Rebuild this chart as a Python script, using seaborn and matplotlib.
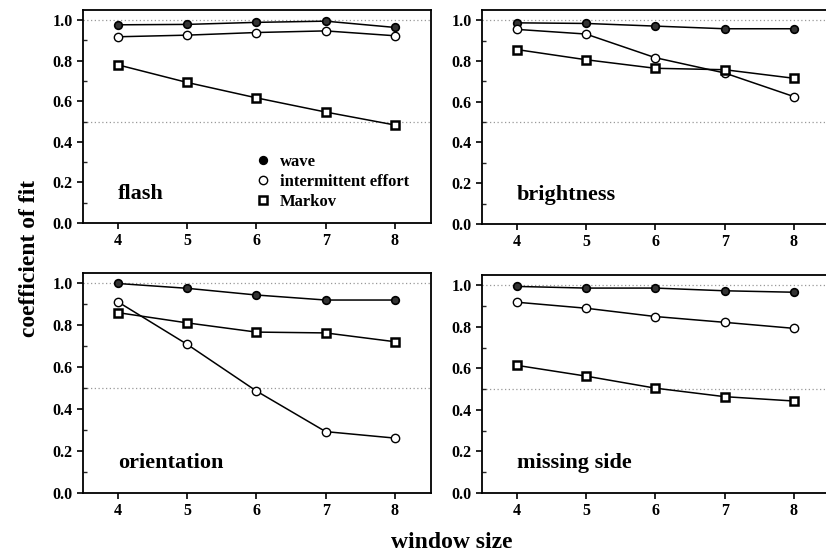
import numpy as np
import pandas as pd
import matplotlib
matplotlib.use("Agg")
import matplotlib.pyplot as plt
import seaborn as sns
from matplotlib.lines import Line2D
from matplotlib.ticker import MultipleLocator

sns.set_theme(style="ticks")
plt.rcParams['font.family'] = ['Liberation Serif', 'DejaVu Serif']
plt.rcParams['font.weight'] = 'bold'
plt.rcParams['text.color'] = 'black'
plt.rcParams['legend.labelcolor'] = 'black'

window = [4, 5, 6, 7, 8]
panels = ["flash", "brightness", "orientation", "missing side"]
series = ["wave", "intermittent effort", "Markov"]

flash_wave = [0.977, 0.979, 0.989, 0.995, 0.964]
flash_inter = [0.918, 0.926, 0.939, 0.947, 0.923]
flash_markov = [0.780, 0.693, 0.617, 0.547, 0.483]

bright_wave = [0.987, 0.984, 0.971, 0.958, 0.958]
bright_inter = [0.955, 0.932, 0.816, 0.741, 0.625]
bright_markov = [0.856, 0.806, 0.764, 0.757, 0.715]

orient_wave = [1.000, 0.977, 0.945, 0.921, 0.921]
orient_inter = [0.913, 0.710, 0.487, 0.293, 0.262]
orient_markov = [0.861, 0.812, 0.768, 0.764, 0.722]

missing_wave = [0.995, 0.987, 0.987, 0.974, 0.967]
missing_inter = [0.919, 0.890, 0.850, 0.822, 0.793]
missing_markov = [0.615, 0.563, 0.505, 0.464, 0.443]

data = {
    "flash": [flash_wave, flash_inter, flash_markov],
    "brightness": [bright_wave, bright_inter, bright_markov],
    "orientation": [orient_wave, orient_inter, orient_markov],
    "missing side": [missing_wave, missing_inter, missing_markov],
}

rows = []
for p in panels:
    for s, vals in zip(series, data[p]):
        for w, v in zip(window, vals):
            rows.append({"panel": p, "series": s, "window": w, "fit": v})
df = pd.DataFrame(rows)

W, H = 826, 558
fig = plt.figure(figsize=(W / 100, H / 100), dpi=100)

def rect(l, r, t, b):
    return [l / W, 1 - b / H, (r - l) / W, (b - t) / H]

rects = {
    "flash": rect(83, 431, 10, 223),
    "brightness": rect(482, 830, 10, 224),
    "orientation": rect(83, 431, 273, 493),
    "missing side": rect(482, 830, 275, 493),
}

styles = {
    "wave": dict(marker="o", markerfacecolor="#333333", markeredgecolor="black", markersize=5.5, markeredgewidth=1.2),
    "intermittent effort": dict(marker="o", markerfacecolor="white", markeredgecolor="black", markersize=6, markeredgewidth=1.0),
    "Markov": dict(marker="s", markerfacecolor="white", markeredgecolor="black", markersize=5.5, markeredgewidth=1.8),
}

for p in panels:
    ax = fig.add_axes(rects[p])
    for yref in (1.0, 0.5):
        ax.axhline(yref, color="#999999", lw=0.9, ls=(0, (1, 2)), zorder=0)
    sub = df[df.panel == p]
    for s in series:
        d = sub[sub.series == s]
        sns.lineplot(data=d, x="window", y="fit", ax=ax, color="black", lw=1.1,
                     legend=False, **styles[s])
    ax.set_xlim(3.5, 8.52)
    ax.set_ylim(0.0, 1.05)
    ax.set_xticks(window)
    ax.set_yticks([0.0, 0.2, 0.4, 0.6, 0.8, 1.0])
    ax.yaxis.set_minor_locator(MultipleLocator(0.1))
    ax.set_yticklabels(["0.0", "0.2", "0.4", "0.6", "0.8", "1.0"])
    ax.tick_params(axis="both", which="major", direction="out", length=4, width=1.2,
                   labelsize=11.5, colors="black")
    ax.tick_params(axis="y", which="minor", direction="in", length=3, width=1.0)
    for lab in ax.get_xticklabels() + ax.get_yticklabels():
        lab.set_fontweight("bold")
    ax.set_xlabel("")
    ax.set_ylabel("")
    for sp in ax.spines.values():
        sp.set_visible(True)
        sp.set_linewidth(1.3)
        sp.set_color("black")
    ax.text(0.10, 0.09, p, transform=ax.transAxes, fontsize=16, fontweight="bold",
            color="black", ha="left", va="bottom")
    if p == "flash":
        handles = [Line2D([], [], ls="none", color="black", **styles[s]) for s in series]
        handles[0].set_markerfacecolor("black")
        leg = ax.legend(handles, series, loc="lower left", bbox_to_anchor=(0.48, 0.03),
                        frameon=False, handlelength=0.8, handletextpad=0.6,
                        labelspacing=0.25, fontsize=12, borderaxespad=0)
        for t in leg.get_texts():
            t.set_fontweight("bold")
            t.set_color("black")

fig.text(30 / W, 1 - 258 / H, "coefficient of fit", rotation=90, ha="center", va="center",
         fontsize=17, fontweight="bold")
fig.text(452 / W, 1 - 542 / H, "window size", ha="center", va="center",
         fontsize=17, fontweight="bold")

fig.savefig("out.png", dpi=100, facecolor="white")
